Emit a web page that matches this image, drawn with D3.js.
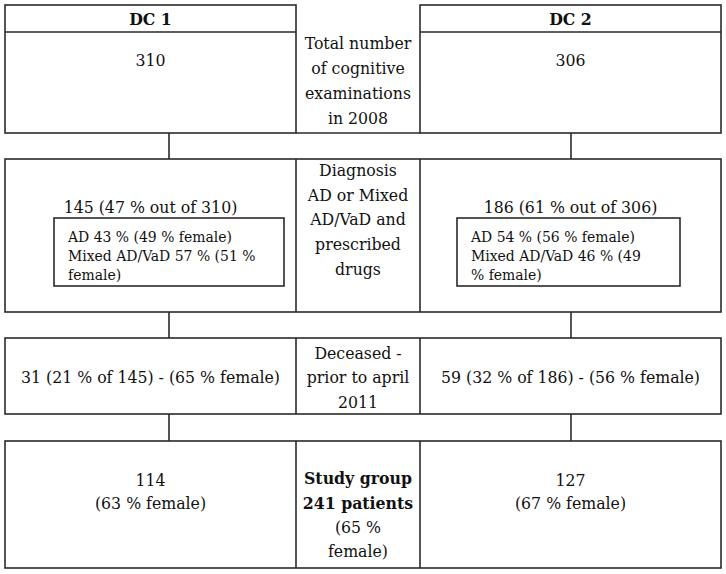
<!DOCTYPE html>
<html>
<head>
<meta charset="utf-8">
<script src="https://cdn.jsdelivr.net/npm/d3@7"></script>
<style>
  html, body { margin: 0; padding: 0; background: #fff; }
  svg { display: block; }
</style>
</head>
<body>
<script>
// ---- data ----
const centers = ["DC 1", "DC 2"];
const totalExams = [310, 306];
const diagnosed = [145, 186];
const diagnosedPct = [47, 61];
const adPct = [43, 54];
const adFemale = [49, 56];
const mixedPct = [57, 46];
const mixedFemale = [51, 49];
const deceased = [31, 59];
const deceasedPct = [21, 32];
const deceasedFemale = [65, 56];
const studyGroup = [114, 127];
const studyFemale = [63, 67];
const studyTotal = 241;
const studyTotalFemale = 65;
const stepLabels = [
  ["Total number", "of cognitive", "examinations", "in 2008"],
  ["Diagnosis", "AD or Mixed", "AD/VaD and", "prescribed", "drugs"],
  ["Deceased -", "prior to april", "2011"],
  ["Study group", `${studyTotal} patients`, `(${studyTotalFemale} %`, "female)"]
];

// ---- layout ----
const W = 726, H = 574;
const FONT = "'DejaVu Serif Condensed', 'DejaVu Serif', serif";
const BASE = 17.5;
const svg = d3.select("body").append("svg").attr("width", W).attr("height", H);
const stroke = "#2a2a2a", sw = 1.6;

const colEdges = [5, 296, 420, 721];
const colX = d3.scaleOrdinal().domain(["left", "mid", "right"])
  .range([(colEdges[0] + colEdges[1]) / 2, (colEdges[1] + colEdges[2]) / 2, (colEdges[2] + colEdges[3]) / 2]);
const rows = [
  { top: 5, head: 32, bottom: 133 },
  { top: 159, bottom: 312 },
  { top: 338, bottom: 414 },
  { top: 441, bottom: 568 }
];
const connX = [169, 571];

const g = svg.append("g").attr("fill", "none").attr("stroke", stroke).attr("stroke-width", sw);

[[colEdges[0], colEdges[1]], [colEdges[2], colEdges[3]]].forEach(([x0, x1]) => {
  g.append("rect").attr("x", x0).attr("y", rows[0].top).attr("width", x1 - x0).attr("height", rows[0].bottom - rows[0].top);
  g.append("line").attr("x1", x0).attr("x2", x1).attr("y1", rows[0].head).attr("y2", rows[0].head);
});
g.append("line").attr("x1", colEdges[1]).attr("x2", colEdges[2]).attr("y1", rows[0].bottom).attr("y2", rows[0].bottom);

rows.slice(1).forEach(r => {
  g.append("rect").attr("x", colEdges[0]).attr("y", r.top).attr("width", colEdges[3] - colEdges[0]).attr("height", r.bottom - r.top);
  [colEdges[1], colEdges[2]].forEach(x => g.append("line").attr("x1", x).attr("x2", x).attr("y1", r.top).attr("y2", r.bottom));
});

for (let i = 0; i < rows.length - 1; i++) {
  connX.forEach(x => g.append("line").attr("x1", x).attr("x2", x).attr("y1", rows[i].bottom).attr("y2", rows[i + 1].top));
}

const innerBoxes = [{ x0: 54, x1: 284 }, { x0: 457, x1: 680 }];
const innerTop = 218, innerBottom = 286;
innerBoxes.forEach(b => g.append("rect").attr("x", b.x0).attr("y", innerTop).attr("width", b.x1 - b.x0).attr("height", innerBottom - innerTop));

function txt(x, y, s, opts = {}) {
  return svg.append("text")
    .attr("x", x).attr("y", y).attr("dy", "0.35em")
    .attr("text-anchor", opts.anchor || "middle")
    .attr("font-family", FONT)
    .attr("font-stretch", "condensed")
    .attr("fill", "#111")
    .attr("font-size", opts.size || BASE)
    .attr("font-weight", opts.bold ? "bold" : "normal")
    .text(s);
}
function lines(x, ys, arr, opts) { arr.forEach((s, i) => txt(x, ys[i], s, opts && opts[i])); }

const sides = ["left", "right"];

centers.forEach((c, i) => txt(colX(sides[i]), 18.5, c, { bold: true }));
totalExams.forEach((v, i) => txt(colX(sides[i]), 60, String(v)));
lines(colX("mid"), [43, 68, 93, 118], stepLabels[0]);

diagnosed.forEach((v, i) => txt(colX(sides[i]), 207, `${v} (${diagnosedPct[i]} % out of ${totalExams[i]})`));
lines(colX("mid"), [170, 195, 219, 244, 269], stepLabels[1]);
const innerLines = [
  [`AD ${adPct[0]} % (${adFemale[0]} % female)`, `Mixed AD/VaD ${mixedPct[0]} % (${mixedFemale[0]} %`, "female)"],
  [`AD ${adPct[1]} % (${adFemale[1]} % female)`, `Mixed AD/VaD ${mixedPct[1]} % (${mixedFemale[1]}`, "% female)"]
];
innerLines.forEach((arr, i) => {
  arr.forEach((s, j) => txt(innerBoxes[i].x0 + 14, [237, 256, 275][j], s, { anchor: "start", size: 15.5 }));
});

deceased.forEach((v, i) => txt(colX(sides[i]), 377, `${v} (${deceasedPct[i]} % of ${diagnosed[i]}) - (${deceasedFemale[i]} % female)`));
lines(colX("mid"), [353, 377, 402], stepLabels[2]);

studyGroup.forEach((v, i) => {
  txt(colX(sides[i]), 480, String(v));
  txt(colX(sides[i]), 503, `(${studyFemale[i]} % female)`);
});
lines(colX("mid"), [478, 503, 527, 551], stepLabels[3], [{ bold: true }, { bold: true }, {}, {}]);
</script>
</body>
</html>
